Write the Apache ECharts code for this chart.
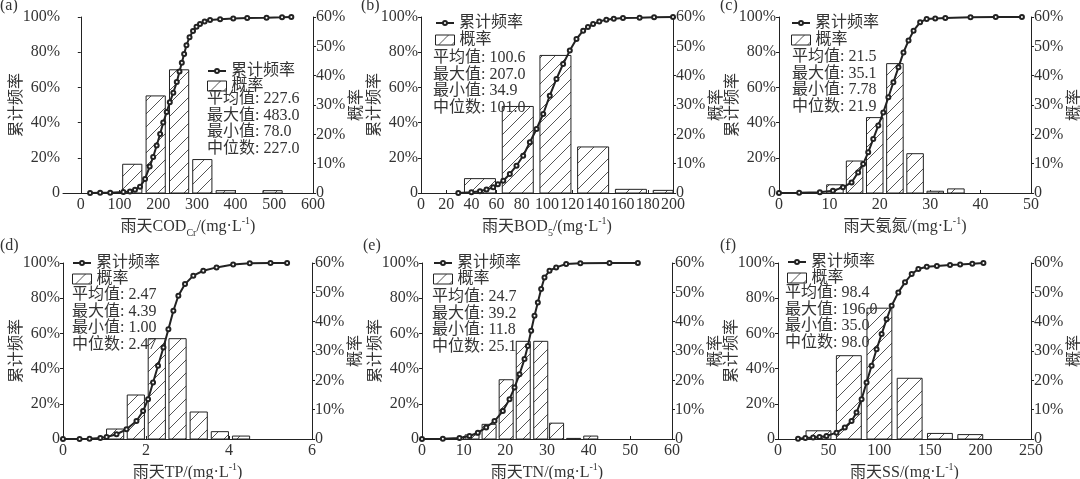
<!DOCTYPE html>
<html><head><meta charset="utf-8">
<script src="https://cdn.jsdelivr.net/npm/echarts@6/dist/echarts.min.js"></script>
<style>html,body{margin:0;padding:0;background:#fff}#c{width:1080px;height:479px}</style>
</head><body><div id="c"></div>
<script>
// ---------------- data ----------------
const seriesNames = ['累计频率', '概率'];
const leftTicks = [0, 20, 40, 60, 80, 100];
const rightTicks = [0, 10, 20, 30, 40, 50, 60];

// (a) COD
const codTicks = [0, 100, 200, 300, 400, 500, 600];
const codBins = [133, 193.5, 254, 314, 374.5, 495.5];
const codProb = [9.8, 33.1, 42.0, 11.4, 0.8, 0.8];
const codCurve = [[24,0],[50,0.1],[76,0.2],[110,0.5],[127,0.9],[140,1.8],[153,3.5],[166,8],[178,15],[187,20.5],[196,27],[205,33.5],[213,40],[222,46],[230,51.5],[239,57],[248,63],[255,69],[261,74],[267,79],[273,84],[281,88.5],[290,92],[299,94.5],[308,96],[320,97.5],[334,98.3],[360,98.7],[394,99.1],[430,99.4],[480,99.6],[520,99.8],[544,100]];
const codStats = ['平均值: 227.6', '最大值: 483.0', '最小值: 78.0', '中位数: 227.0'];

// (b) BOD5
const bodTicks = [0, 20, 40, 60, 80, 100, 120, 140, 160, 180, 200];
const bodBins = [46.8, 76.8, 106.7, 136.6, 166.6, 196.6];
const bodProb = [4.9, 29.5, 46.9, 15.7, 1.25, 0.9];
const bodCurve = [[29.6,0],[40,0.4],[46.8,1],[52,2],[57.3,3.2],[61,5],[65.3,7],[70.5,10.8],[75.8,15.5],[81.1,21.2],[86.4,28.8],[91.7,36.4],[97,44.9],[102.2,55.3],[107.5,64.8],[112.8,73.3],[118.1,80.9],[123.4,87.5],[128.7,92.2],[132.5,94.3],[136.6,96],[141.5,97.4],[147.1,98.5],[153,99],[160.3,99.4],[173.5,99.6],[185,99.8],[200,100]];
const bodStats = ['平均值: 100.6', '最大值: 207.0', '最小值: 34.9', '中位数: 101.0'];

// (c) 氨氮
const nh3Ticks = [0, 10, 20, 30, 40, 50];
const nh3Bins = [11.1, 15.0, 19.0, 23.0, 27.0, 31.0, 35.1];
const nh3Prob = [2.8, 10.9, 25.7, 44.1, 13.4, 0.6, 1.4];
const nh3Curve = [[0,0],[4,0.1],[8.1,0.4],[10.7,1.3],[12.7,3.2],[14.4,6],[15.7,11.7],[16.7,16.5],[17.7,23.1],[18.7,30.7],[19.7,38.3],[20.7,45.8],[21.7,54.4],[22.7,62.9],[23.7,71.4],[24.7,79.9],[25.7,86.6],[26.7,92.2],[28.0,97],[29.3,98.9],[31,99.2],[33,99.5],[38,99.8],[43,100],[48.2,100]];
const nh3Stats = ['平均值: 21.5', '最大值: 35.1', '最小值: 7.78', '中位数: 21.9'];

// (d) TP
const tpTicks = [0, 2, 4, 6];
const tpBins = [1.256, 1.755, 2.26, 2.76, 3.27, 3.78, 4.29];
const tpProb = [3.4, 15.0, 34.2, 34.2, 9.2, 2.5, 1.0];
const tpCurve = [[0,0],[0.4,0],[0.64,0.2],[0.9,0.6],[1.05,1.1],[1.29,2.7],[1.53,5.5],[1.77,10.2],[1.93,15.9],[2.05,22.6],[2.17,32.1],[2.29,41.6],[2.42,52],[2.54,62.4],[2.66,72.9],[2.78,81.4],[2.94,88],[3.14,92.8],[3.38,95.6],[3.7,97.5],[4.1,99.2],[4.5,99.8],[5.0,100],[5.4,100]];
const tpStats = ['平均值: 2.47', '最大值: 4.39', '最小值: 1.00', '中位数: 2.47'];

// (e) TN
const tnTicks = [0, 10, 20, 30, 40, 50, 60];
const tnBins = [12, 16.1, 20.2, 24.3, 28.5, 32.3, 36.4, 40.5];
const tnProb = [1.4, 5.0, 20.2, 33.3, 33.3, 5.4, 0.2, 1.0];
const tnCurve = [[0,0],[5,0.1],[9,0.6],[11.4,1.7],[13.4,3.6],[15.4,6.5],[17.4,10.2],[19.4,15.9],[21,22.6],[22.2,29.2],[23.4,36.8],[24.6,45.4],[25.4,52.9],[26.2,61.5],[27,70],[27.8,77.6],[28.6,85.2],[29.4,91.8],[30.6,95.6],[32.2,97.5],[34.6,99.4],[38,99.8],[45,100],[51.8,100]];
const tnStats = ['平均值: 24.7', '最大值: 39.2', '最小值: 11.8', '中位数: 25.1'];

// (f) SS
const ssTicks = [0, 50, 100, 150, 200, 250];
const ssBins = [40, 70, 100.2, 130.1, 160, 190];
const ssProb = [2.8, 28.4, 44.6, 20.7, 1.9, 1.5];
const ssCurve = [[19.8,0.2],[27,0.5],[34.7,0.8],[41,1.2],[47.9,1.7],[57.8,3.6],[66,6.5],[72.7,10.2],[77.6,15],[82.6,22.6],[87.5,32.1],[92.5,41.6],[97.4,51],[102.4,59.6],[107.3,68.1],[112.3,75.7],[118.9,83.3],[125.5,89],[132.1,93.7],[138.7,96.6],[147,97.9],[157,98.3],[170,98.8],[180,99.1],[192,99.6],[203,100]];
const ssStats = ['平均值: 98.4', '最大值: 196.0', '最小值: 35.0', '中位数: 98.0'];

// ---------------- layout / style ----------------
const FONT = "'Liberation Serif', 'Noto Sans CJK SC', serif";
const INK = '#222';
const TXT = '#333';
const FS = 16;

const hc = document.createElement('canvas');
hc.width = 13; hc.height = 13;
(function(){
  const g = hc.getContext('2d');
  g.fillStyle = '#fff'; g.fillRect(0, 0, 13, 13);
  g.strokeStyle = '#555'; g.lineWidth = 1;
  g.beginPath();
  g.moveTo(0, 13); g.lineTo(13, 0);
  g.moveTo(-6.5, 6.5); g.lineTo(6.5, -6.5);
  g.moveTo(6.5, 19.5); g.lineTo(19.5, 6.5);
  g.stroke();
})();
const hatch = { image: hc, repeat: 'repeat' };

const panels = [
  { label: '(a)', name: '雨天COD{sub|Cr}/(mg·L{sup|-1})', ticks: codTicks, bins: codBins, prob: codProb, curve: codCurve, stats: codStats,
    binStep: 60.5, xMin: -46, xMax: 600, grid: [63, 17, 250, 176], labelPos: [0, -2], legendPos: [207, 63, 78], statsPos: [207, 91] },
  { label: '(b)', name: '雨天BOD{sub|5}/(mg·L{sup|-1})', ticks: bodTicks, bins: bodBins, prob: bodProb, curve: bodCurve, stats: bodStats,
    binStep: 30, xMin: 0, xMax: 200, grid: [421, 17, 252, 176], labelPos: [361, -2], legendPos: [435, 15, 32], statsPos: [433, 50] },
  { label: '(c)', name: '雨天氨氮/(mg·L{sup|-1})', ticks: nh3Ticks, bins: nh3Bins, prob: nh3Prob, curve: nh3Curve, stats: nh3Stats,
    binStep: 4, xMin: 0, xMax: 50, grid: [779, 17, 252, 176], labelPos: [720, -2], legendPos: [791, 15, 32], statsPos: [792, 49] },
  { label: '(d)', name: '雨天TP/(mg·L{sup|-1})', ticks: tpTicks, bins: tpBins, prob: tpProb, curve: tpCurve, stats: tpStats,
    binStep: 0.505, xMin: 0, xMax: 6, grid: [63, 263, 249, 176], labelPos: [0, 238], legendPos: [72, 255, 271], statsPos: [72, 287] },
  { label: '(e)', name: '雨天TN/(mg·L{sup|-1})', ticks: tnTicks, bins: tnBins, prob: tnProb, curve: tnCurve, stats: tnStats,
    binStep: 4.1, xMin: 0, xMax: 60, grid: [422, 263, 250, 176], labelPos: [363, 238], legendPos: [433, 255, 271], statsPos: [432, 289] },
  { label: '(f)', name: '雨天SS/(mg·L{sup|-1})', ticks: ssTicks, bins: ssBins, prob: ssProb, curve: ssCurve, stats: ssStats,
    binStep: 30, xMin: 0, xMax: 250, grid: [778, 263, 253, 176], labelPos: [720, 238], legendPos: [787, 254, 270], statsPos: [785, 285] }
];
const BAR_FRACTION = 0.82;

const pct = v => (v === 0 ? '0' : v + '%');
const rich = {
  sub: { fontSize: 10, fontFamily: FONT, color: TXT, verticalAlign: 'bottom', lineHeight: 22 },
  sup: { fontSize: 10, fontFamily: FONT, color: TXT, verticalAlign: 'top', lineHeight: 22 }
};

function makeRender(w) {
  return function (params, api) {
    const c = api.value(0), v = api.value(1);
    const p0 = api.coord([c - w / 2, v]);
    const p1 = api.coord([c + w / 2, 0]);
    const cs = params.coordSys;
    const r = echarts.graphic.clipRectByRect(
      { x: p0[0], y: p0[1], width: p1[0] - p0[0], height: p1[1] - p0[1] },
      { x: cs.x, y: cs.y, width: cs.width, height: cs.height });
    if (!r) return;
    return { type: 'rect', shape: r, style: { fill: hatch, stroke: INK, lineWidth: 1 } };
  };
}

const option = { animation: false, backgroundColor: '#fff', grid: [], xAxis: [], yAxis: [], series: [], legend: [], title: [] };

panels.forEach((p, i) => {
  option.grid.push({ left: p.grid[0], top: p.grid[1], width: p.grid[2], height: p.grid[3], containLabel: false, outerBoundsMode: 'none' });
  option.xAxis.push({
    type: 'value', gridIndex: i, min: p.xMin, max: p.xMax,
    name: p.name, nameLocation: 'middle', nameGap: 23, nameMoveOverlap: false,
    nameTextStyle: { fontFamily: FONT, fontSize: FS, color: TXT, rich: rich },
    axisLine: { show: true, onZero: false, lineStyle: { color: INK, width: 1 } },
    axisTick: { show: true, inside: true, length: 3, lineStyle: { color: INK }, customValues: p.ticks },
    axisLabel: { fontFamily: FONT, fontSize: FS, color: TXT, margin: 4, customValues: p.ticks, hideOverlap: false },
    splitLine: { show: false }
  });
  option.yAxis.push({
    type: 'value', gridIndex: i, position: 'left', min: 0, max: 100, interval: 20,
    name: '累计频率', nameLocation: 'middle', nameRotate: 90, nameGap: 38, nameMoveOverlap: false,
    nameTextStyle: { fontFamily: FONT, fontSize: FS, color: TXT },
    axisLine: { show: true, lineStyle: { color: INK, width: 1 } },
    axisTick: { show: true, length: 3, lineStyle: { color: INK } },
    axisLabel: { fontFamily: FONT, fontSize: FS, color: TXT, margin: 3, formatter: pct },
    splitLine: { show: false }
  });
  option.yAxis.push({
    type: 'value', gridIndex: i, position: 'right', min: 0, max: 60, interval: 10,
    name: '概率', nameLocation: 'middle', nameRotate: 90, nameGap: 36, nameMoveOverlap: false,
    nameTextStyle: { fontFamily: FONT, fontSize: FS, color: TXT },
    axisLine: { show: true, lineStyle: { color: INK, width: 1 } },
    axisTick: { show: true, length: 3, lineStyle: { color: INK } },
    axisLabel: { fontFamily: FONT, fontSize: FS, color: TXT, margin: 3, formatter: pct },
    splitLine: { show: false }
  });
  option.series.push({
    type: 'custom', name: seriesNames[1], xAxisIndex: i, yAxisIndex: 2 * i + 1, z: 2,
    renderItem: makeRender(p.binStep * BAR_FRACTION),
    itemStyle: { color: hatch, borderColor: INK },
    encode: { x: 0, y: 1 },
    data: p.bins.map((c, k) => [c, p.prob[k]])
  });
  option.series.push({
    type: 'line', name: seriesNames[0], xAxisIndex: i, yAxisIndex: 2 * i, z: 3,
    symbol: 'emptyCircle', symbolSize: 4, showSymbol: true,
    lineStyle: { color: INK, width: 2 },
    itemStyle: { color: INK, borderColor: INK, borderWidth: 1 },
    data: p.curve
  });
  const legendText = { fontFamily: FONT, fontSize: FS, color: TXT, lineHeight: 16 };
  option.legend.push({
    orient: 'vertical', left: p.legendPos[0], top: p.legendPos[1], itemWidth: 18, itemHeight: 5, padding: 0,
    textStyle: legendText, selectedMode: false,
    data: [{ name: seriesNames[0] }]
  });
  option.legend.push({
    orient: 'vertical', left: p.legendPos[0], top: p.legendPos[2], itemWidth: 19, itemHeight: 10, padding: 0,
    textStyle: legendText, selectedMode: false,
    data: [{ name: seriesNames[1], icon: 'rect', itemStyle: { color: hatch, borderColor: INK, borderWidth: 1 } }]
  });
  option.title.push({
    text: p.label, left: p.labelPos[0], top: p.labelPos[1], padding: 0,
    textStyle: { fontFamily: FONT, fontSize: FS, fontWeight: 'normal', color: TXT }
  });
  option.title.push({
    text: p.stats.join('\n'), left: p.statsPos[0], top: p.statsPos[1], padding: 0,
    textStyle: { fontFamily: FONT, fontSize: FS, fontWeight: 'normal', color: TXT, lineHeight: 16.5 }
  });
});

const chart = echarts.init(document.getElementById('c'), null, { renderer: 'canvas', width: 1080, height: 479 });
chart.setOption(option);
</script>
</body></html>
